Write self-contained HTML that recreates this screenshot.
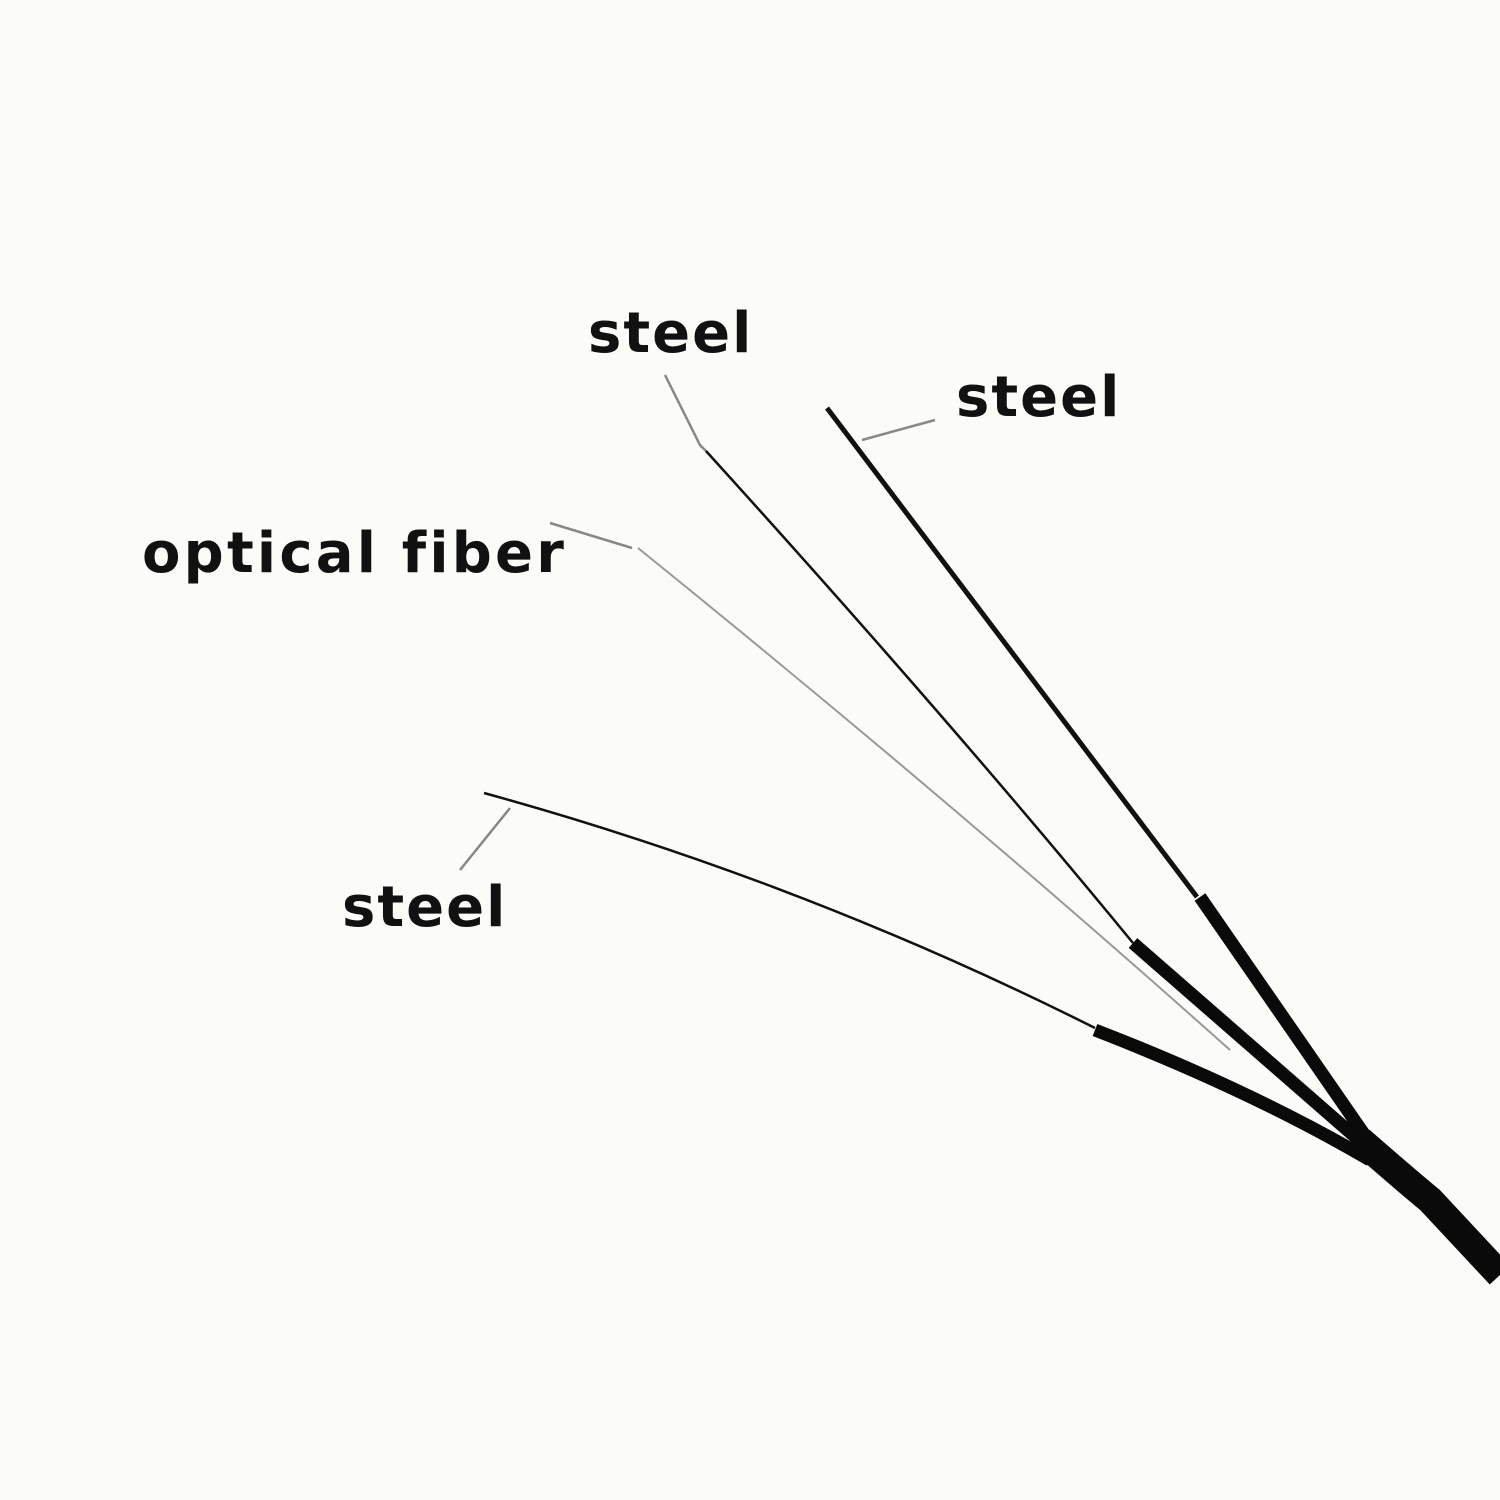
<!DOCTYPE html>
<html><head><style>
html,body{margin:0;padding:0;background:#fbfbf8;}
svg{display:block}
text{font-family:"DejaVu Sans","Liberation Sans",sans-serif;font-weight:bold;fill:#111;font-size:56px;letter-spacing:2px;font-variant-ligatures:none}
</style></head><body>
<svg width="1500" height="1500" viewBox="0 0 1500 1500">
<rect width="1500" height="1500" fill="#fbfbf8"/>
<text x="588" y="352">steel</text>
<text x="956" y="416">steel</text>
<text x="142" y="572" style="letter-spacing:3.2px">optical fiber</text>
<text x="342" y="926">steel</text>
<g stroke="#888" stroke-width="2.5" fill="none">
<polyline points="665,375 700,445 706,451"/>
<line x1="862" y1="440" x2="935" y2="420"/>
<line x1="550" y1="523" x2="632" y2="548"/>
<line x1="510" y1="808" x2="460" y2="870"/>
</g>
<path d="M638,548 Q950,800 1230,1050" stroke="#999" stroke-width="2" fill="none"/>
<path d="M827,408 L1197,897" stroke="#111" stroke-width="5" fill="none"/>
<path d="M706,451 Q950,720 1133,943" stroke="#111" stroke-width="2.5" fill="none"/>
<path d="M484,793 Q800,880 1095,1028" stroke="#111" stroke-width="2.5" fill="none"/>
<g stroke="#0a0a0a" stroke-width="13" fill="none" stroke-linecap="butt">
<path d="M1200,897 L1375,1150"/>
<path d="M1133,943 L1368,1148"/>
<path d="M1095,1030 Q1250,1090 1370,1160"/>
</g>
<path d="M1360,1140 Q1400,1175 1430,1200 L1500,1275" stroke="#0a0a0a" stroke-width="28" fill="none"/>
</svg>
</body></html>
